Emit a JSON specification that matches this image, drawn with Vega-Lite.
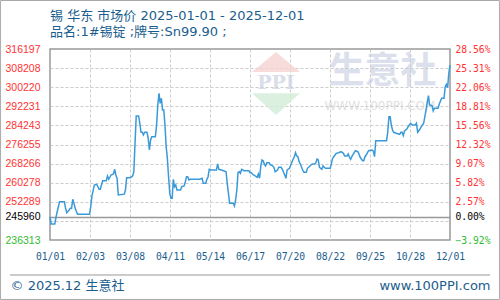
{
  "$schema": "https://vega.github.io/schema/vega-lite/v6.json",
  "width": 400,
  "height": 191,
  "autosize": {"type": "none"},
  "padding": {"left": 50, "top": 49, "right": 50, "bottom": 60},
  "background": "#ffffff",
  "title": {
    "text": ["锡 华东 市场价 2025-01-01 - 2025-12-01", "品名:1#锡锭 ;牌号:Sn99.90 ;"],
    "anchor": "start",
    "frame": "group",
    "font": "DejaVu Sans, Noto Sans CJK SC",
    "fontSize": 13,
    "fontWeight": "normal",
    "color": "#1a5e8e",
    "lineHeight": 16,
    "offset": -38.5
  },
  "config": {
    "view": {"stroke": "#999999", "strokeWidth": 1.5},
    "axis": {"domain": false, "ticks": false}
  },
  "resolve": {"axis": {"y": "independent"}},
  "layer": [
    {
      "data": {"values": [{}]},
      "mark": {"type": "rect", "fill": "transparent", "stroke": "#aaaaaa", "strokeWidth": 1},
      "encoding": {
        "x": {"datum": {"year": 2024, "month": 11, "date": 20, "hours": 17}, "type": "temporal"},
        "x2": {"datum": {"year": 2026, "month": 1, "date": 11, "hours": 7}},
        "y": {"datum": 336480, "type": "quantitative", "axis": null},
        "y2": {"datum": 211428}
      }
    },
    {
      "data": {"values": [{}]},
      "mark": {"type": "rule", "stroke": "#999999", "strokeWidth": 1},
      "encoding": {
        "x": {"datum": {"year": 2024, "month": 11, "date": 28, "hours": 14}, "type": "temporal"},
        "x2": {"datum": {"year": 2026, "month": 1, "date": 3, "hours": 10}},
        "y": {"datum": 221675, "type": "quantitative", "axis": null}
      }
    },
    {
      "data": {"values": [{}]},
      "mark": {"type": "point", "shape": "M-1,0L1,0L0,-0.83Z", "size": 2304, "filled": true, "fill": "#f6d3d3", "opacity": 0.8, "strokeWidth": 0},
      "encoding": {
        "x": {"datum": {"year": 2025, "month": 7, "date": 8, "hours": 17}, "type": "temporal"},
        "y": {"datum": 306577, "type": "quantitative", "axis": null}
      }
    },
    {
      "data": {"values": [{}]},
      "mark": {"type": "point", "shape": "M-1,0L1,0L0,0.9Z", "size": 2304, "filled": true, "fill": "#d2ecd7", "opacity": 0.8, "strokeWidth": 0},
      "encoding": {
        "x": {"datum": {"year": 2025, "month": 7, "date": 8, "hours": 17}, "type": "temporal"},
        "y": {"datum": 297669, "type": "quantitative", "axis": null}
      }
    },
    {
      "data": {"values": [{"t": "PPI"}]},
      "mark": {"type": "text", "font": "DejaVu Serif", "fontWeight": "bold", "fontSize": 19, "fill": "#c9d1e2", "opacity": 0.7, "align": "center", "baseline": "middle"},
      "encoding": {
        "text": {"field": "t"},
        "x": {"datum": {"year": 2025, "month": 7, "date": 8, "hours": 17}, "type": "temporal"},
        "y": {"datum": 301978, "type": "quantitative", "axis": null}
      }
    },
    {
      "data": {"values": [{"t": "WWW.100PPI.COM"}]},
      "mark": {"type": "text", "font": "DejaVu Sans", "fontSize": 12, "fill": "#cccccc", "opacity": 0.6, "align": "center", "baseline": "middle"},
      "encoding": {
        "text": {"field": "t"},
        "x": {"datum": {"year": 2025, "month": 10, "date": 3, "hours": 12}, "type": "temporal"},
        "y": {"datum": 292357, "type": "quantitative", "axis": null}
      }
    },
    {
      "data": {"values": [{"t": "生意社"}]},
      "mark": {"type": "text", "font": "Noto Sans CJK SC", "fontWeight": "bold", "fontSize": 36, "fill": "#c5cde0", "opacity": 0.6, "align": "center", "baseline": "middle"},
      "encoding": {
        "text": {"field": "t"},
        "x": {"datum": {"year": 2025, "month": 10, "date": 5, "hours": 14}, "type": "temporal"},
        "y": {
          "datum": 306703,
          "type": "quantitative",
          "axis": {
            "orient": "right",
            "values": [236313, 245960, 252289, 260278, 268266, 276255, 284243, 292231, 300220, 308208, 316197],
            "tickCount": 20,
            "labelExpr": "format((datum.value - 245960) / 245960 * 100, '.2f') + '%'",
            "labelFont": "DejaVu Sans Mono",
            "labelFontSize": 9.7,
            "labelPadding": 5,
            "labelOverlap": false,
            "labelFlush": false,
            "labelColor": {"condition": [{"test": "datum.value == 245960", "value": "#000000"}, {"test": "datum.value == 236313", "value": "#33bb33"}], "value": "#ff3333"},
            "grid": false,
            "title": "www.100PPI.com",
            "titleAngle": 0,
            "titleX": 40,
            "titleY": 236,
            "titleAlign": "right",
            "titleBaseline": "middle",
            "titleFont": "DejaVu Sans",
            "titleFontSize": 13,
            "titleFontWeight": "normal",
            "titleColor": "#1a5e8e"
          }
        }
      }
    },
    {
      "data": {
        "values": [
          {"date": "2025-01-01", "price": 245960},
          {"date": "2025-01-02", "price": 243005},
          {"date": "2025-01-05", "price": 243005},
          {"date": "2025-01-06", "price": 245807},
          {"date": "2025-01-07", "price": 248149},
          {"date": "2025-01-08", "price": 250240},
          {"date": "2025-01-09", "price": 252332},
          {"date": "2025-01-13", "price": 252332},
          {"date": "2025-01-14", "price": 249571},
          {"date": "2025-01-15", "price": 247731},
          {"date": "2025-01-17", "price": 248860},
          {"date": "2025-01-18", "price": 249571},
          {"date": "2025-01-19", "price": 249571},
          {"date": "2025-01-20", "price": 253335},
          {"date": "2025-01-21", "price": 251662},
          {"date": "2025-01-22", "price": 249571},
          {"date": "2025-01-24", "price": 247062},
          {"date": "2025-02-03", "price": 247062},
          {"date": "2025-02-04", "price": 250240},
          {"date": "2025-02-05", "price": 254716},
          {"date": "2025-02-07", "price": 259316},
          {"date": "2025-02-09", "price": 259609},
          {"date": "2025-02-11", "price": 257518},
          {"date": "2025-02-12", "price": 257518},
          {"date": "2025-02-14", "price": 261115},
          {"date": "2025-02-17", "price": 261115},
          {"date": "2025-02-18", "price": 263080},
          {"date": "2025-02-19", "price": 261700},
          {"date": "2025-02-21", "price": 263499},
          {"date": "2025-02-23", "price": 263917},
          {"date": "2025-02-24", "price": 265883},
          {"date": "2025-02-25", "price": 263499},
          {"date": "2025-02-26", "price": 262119},
          {"date": "2025-02-27", "price": 255134},
          {"date": "2025-03-04", "price": 255500},
          {"date": "2025-03-05", "price": 257225},
          {"date": "2025-03-06", "price": 262369},
          {"date": "2025-03-09", "price": 262369},
          {"date": "2025-03-11", "price": 263080},
          {"date": "2025-03-12", "price": 264879},
          {"date": "2025-03-13", "price": 276757},
          {"date": "2025-03-14", "price": 288175},
          {"date": "2025-03-16", "price": 288175},
          {"date": "2025-03-17", "price": 285122},
          {"date": "2025-03-18", "price": 281358},
          {"date": "2025-03-19", "price": 281358},
          {"date": "2025-03-20", "price": 280228},
          {"date": "2025-03-21", "price": 281358},
          {"date": "2025-03-23", "price": 281358},
          {"date": "2025-03-24", "price": 278848},
          {"date": "2025-03-25", "price": 273955},
          {"date": "2025-03-26", "price": 278137},
          {"date": "2025-03-27", "price": 279517},
          {"date": "2025-03-30", "price": 279517},
          {"date": "2025-03-31", "price": 284411},
          {"date": "2025-04-01", "price": 292775},
          {"date": "2025-04-02", "price": 297669},
          {"date": "2025-04-03", "price": 293486},
          {"date": "2025-04-04", "price": 295578},
          {"date": "2025-04-05", "price": 290684},
          {"date": "2025-04-06", "price": 290684},
          {"date": "2025-04-07", "price": 284411},
          {"date": "2025-04-08", "price": 275335},
          {"date": "2025-04-09", "price": 270483},
          {"date": "2025-04-10", "price": 262788},
          {"date": "2025-04-11", "price": 255845},
          {"date": "2025-04-12", "price": 253754},
          {"date": "2025-04-13", "price": 253754},
          {"date": "2025-04-14", "price": 261700},
          {"date": "2025-04-15", "price": 258605},
          {"date": "2025-04-16", "price": 259316},
          {"date": "2025-04-17", "price": 257225},
          {"date": "2025-04-20", "price": 257225},
          {"date": "2025-04-21", "price": 258605},
          {"date": "2025-04-23", "price": 258898},
          {"date": "2025-04-24", "price": 260696},
          {"date": "2025-04-25", "price": 262788},
          {"date": "2025-04-26", "price": 262788},
          {"date": "2025-04-27", "price": 261407},
          {"date": "2025-04-28", "price": 261700},
          {"date": "2025-05-06", "price": 261700},
          {"date": "2025-05-08", "price": 262119},
          {"date": "2025-05-09", "price": 260027},
          {"date": "2025-05-11", "price": 260027},
          {"date": "2025-05-12", "price": 261700},
          {"date": "2025-05-13", "price": 262788},
          {"date": "2025-05-14", "price": 265883},
          {"date": "2025-05-16", "price": 265590},
          {"date": "2025-05-20", "price": 265590},
          {"date": "2025-05-21", "price": 268099},
          {"date": "2025-05-22", "price": 265883},
          {"date": "2025-05-24", "price": 265590},
          {"date": "2025-05-26", "price": 265297},
          {"date": "2025-05-28", "price": 264879},
          {"date": "2025-05-29", "price": 260027},
          {"date": "2025-05-30", "price": 255845},
          {"date": "2025-05-31", "price": 251662},
          {"date": "2025-06-03", "price": 251662},
          {"date": "2025-06-04", "price": 250533},
          {"date": "2025-06-05", "price": 253043},
          {"date": "2025-06-06", "price": 257225},
          {"date": "2025-06-07", "price": 264460},
          {"date": "2025-06-08", "price": 264879},
          {"date": "2025-06-09", "price": 264210},
          {"date": "2025-06-10", "price": 265883},
          {"date": "2025-06-12", "price": 265297},
          {"date": "2025-06-16", "price": 265297},
          {"date": "2025-06-17", "price": 264460},
          {"date": "2025-06-18", "price": 264460},
          {"date": "2025-06-20", "price": 263499},
          {"date": "2025-06-21", "price": 263200},
          {"date": "2025-06-23", "price": 262537},
          {"date": "2025-06-24", "price": 263917},
          {"date": "2025-06-25", "price": 262119},
          {"date": "2025-06-26", "price": 267263},
          {"date": "2025-06-27", "price": 269772},
          {"date": "2025-06-28", "price": 269500},
          {"date": "2025-06-29", "price": 267974},
          {"date": "2025-06-30", "price": 267263},
          {"date": "2025-07-01", "price": 268643},
          {"date": "2025-07-03", "price": 268643},
          {"date": "2025-07-04", "price": 267681},
          {"date": "2025-07-05", "price": 267681},
          {"date": "2025-07-07", "price": 266719},
          {"date": "2025-07-08", "price": 264879},
          {"date": "2025-07-10", "price": 265590},
          {"date": "2025-07-11", "price": 266719},
          {"date": "2025-07-13", "price": 266719},
          {"date": "2025-07-14", "price": 265883},
          {"date": "2025-07-16", "price": 263499},
          {"date": "2025-07-17", "price": 262119},
          {"date": "2025-07-18", "price": 265590},
          {"date": "2025-07-20", "price": 266301},
          {"date": "2025-07-21", "price": 267681},
          {"date": "2025-07-23", "price": 270065},
          {"date": "2025-07-24", "price": 271152},
          {"date": "2025-07-25", "price": 272825},
          {"date": "2025-07-26", "price": 271445},
          {"date": "2025-07-27", "price": 271152},
          {"date": "2025-07-28", "price": 269061},
          {"date": "2025-07-29", "price": 268099},
          {"date": "2025-07-31", "price": 265590},
          {"date": "2025-08-01", "price": 264628},
          {"date": "2025-08-03", "price": 264628},
          {"date": "2025-08-04", "price": 266301},
          {"date": "2025-08-06", "price": 267263},
          {"date": "2025-08-08", "price": 268099},
          {"date": "2025-08-10", "price": 268099},
          {"date": "2025-08-11", "price": 268643},
          {"date": "2025-08-12", "price": 270190},
          {"date": "2025-08-13", "price": 269772},
          {"date": "2025-08-14", "price": 266719},
          {"date": "2025-08-16", "price": 265883},
          {"date": "2025-08-17", "price": 267263},
          {"date": "2025-08-18", "price": 266719},
          {"date": "2025-08-19", "price": 266301},
          {"date": "2025-08-23", "price": 266301},
          {"date": "2025-08-24", "price": 268392},
          {"date": "2025-08-25", "price": 270483},
          {"date": "2025-08-27", "price": 271863},
          {"date": "2025-08-28", "price": 272574},
          {"date": "2025-08-30", "price": 272825},
          {"date": "2025-09-01", "price": 273244},
          {"date": "2025-09-03", "price": 272574},
          {"date": "2025-09-04", "price": 271445},
          {"date": "2025-09-06", "price": 271445},
          {"date": "2025-09-07", "price": 272282},
          {"date": "2025-09-08", "price": 270902},
          {"date": "2025-09-09", "price": 270065},
          {"date": "2025-09-10", "price": 271152},
          {"date": "2025-09-12", "price": 272825},
          {"date": "2025-09-13", "price": 273662},
          {"date": "2025-09-15", "price": 273244},
          {"date": "2025-09-16", "price": 272282},
          {"date": "2025-09-17", "price": 270902},
          {"date": "2025-09-19", "price": 269479},
          {"date": "2025-09-20", "price": 269479},
          {"date": "2025-09-21", "price": 271152},
          {"date": "2025-09-22", "price": 271863},
          {"date": "2025-09-24", "price": 273662},
          {"date": "2025-09-27", "price": 273955},
          {"date": "2025-09-28", "price": 273500},
          {"date": "2025-09-29", "price": 271152},
          {"date": "2025-09-30", "price": 277844},
          {"date": "2025-10-09", "price": 277844},
          {"date": "2025-10-10", "price": 281358},
          {"date": "2025-10-11", "price": 287882},
          {"date": "2025-10-12", "price": 287882},
          {"date": "2025-10-13", "price": 284411},
          {"date": "2025-10-14", "price": 282319},
          {"date": "2025-10-15", "price": 281358},
          {"date": "2025-10-17", "price": 280939},
          {"date": "2025-10-20", "price": 280521},
          {"date": "2025-10-21", "price": 281358},
          {"date": "2025-10-22", "price": 281358},
          {"date": "2025-10-23", "price": 279935},
          {"date": "2025-10-24", "price": 281901},
          {"date": "2025-10-26", "price": 282738},
          {"date": "2025-10-27", "price": 283700},
          {"date": "2025-10-29", "price": 285122},
          {"date": "2025-10-31", "price": 284411},
          {"date": "2025-11-02", "price": 284411},
          {"date": "2025-11-03", "price": 285122},
          {"date": "2025-11-04", "price": 281358},
          {"date": "2025-11-06", "price": 282738},
          {"date": "2025-11-07", "price": 283700},
          {"date": "2025-11-09", "price": 285122},
          {"date": "2025-11-10", "price": 287882},
          {"date": "2025-11-11", "price": 290684},
          {"date": "2025-11-13", "price": 296665},
          {"date": "2025-11-14", "price": 292775},
          {"date": "2025-11-16", "price": 292483},
          {"date": "2025-11-17", "price": 290266},
          {"date": "2025-11-18", "price": 291395},
          {"date": "2025-11-21", "price": 291395},
          {"date": "2025-11-22", "price": 293068},
          {"date": "2025-11-24", "price": 295578},
          {"date": "2025-11-26", "price": 295578},
          {"date": "2025-11-27", "price": 300429},
          {"date": "2025-11-28", "price": 301433},
          {"date": "2025-11-29", "price": 300011},
          {"date": "2025-11-30", "price": 306034},
          {"date": "2025-12-01", "price": 309505}
        ],
        "format": {"parse": {"date": "date:'%Y-%m-%d'"}}
      },
      "mark": {"type": "line", "stroke": "#3a9ad9", "strokeWidth": 1.5, "interpolate": "linear"},
      "encoding": {
        "x": {
          "field": "date",
          "type": "temporal",
          "scale": {"domain": [{"year": 2025, "month": 1, "date": 1}, {"year": 2025, "month": 12, "date": 1}]},
          "axis": {
            "values": [
              {"year": 2025, "month": 1, "date": 1},
              {"year": 2025, "month": 2, "date": 3, "hours": 9, "minutes": 36},
              {"year": 2025, "month": 3, "date": 8, "hours": 19, "minutes": 12},
              {"year": 2025, "month": 4, "date": 11, "hours": 4, "minutes": 48},
              {"year": 2025, "month": 5, "date": 14, "hours": 14, "minutes": 24},
              {"year": 2025, "month": 6, "date": 17},
              {"year": 2025, "month": 7, "date": 20, "hours": 9, "minutes": 36},
              {"year": 2025, "month": 8, "date": 22, "hours": 19, "minutes": 12},
              {"year": 2025, "month": 9, "date": 25, "hours": 4, "minutes": 48},
              {"year": 2025, "month": 10, "date": 28, "hours": 14, "minutes": 24},
              {"year": 2025, "month": 12, "date": 1}
            ],
            "tickCount": 20,
            "format": "%m/%d",
            "labelFont": "DejaVu Sans Mono",
            "labelFontSize": 9.7,
            "labelColor": "#1a5e8e",
            "labelPadding": 11,
            "labelFlush": false,
            "labelOverlap": false,
            "grid": true,
            "gridColor": "#cccccc",
            "gridDash": [3, 2],
            "gridOpacity": {"condition": {"test": "datum.value <= datetime(2025, 0, 1, 2) || datum.value >= datetime(2025, 10, 30)", "value": 0}, "value": 1},
            "title": "© 2025.12 生意社",
            "titleX": -40,
            "titleY": 45,
            "titleAlign": "left",
            "titleBaseline": "middle",
            "titleFont": "DejaVu Sans, Noto Sans CJK SC",
            "titleFontSize": 13,
            "titleFontWeight": "normal",
            "titleColor": "#1a5e8e"
          }
        },
        "y": {
          "field": "price",
          "type": "quantitative",
          "scale": {"domain": [236313, 316197], "nice": false, "zero": false},
          "axis": {
            "orient": "left",
            "values": [236313, 244301, 245960, 252289, 260278, 268266, 276255, 284243, 292231, 300220, 308208, 316197],
            "tickCount": 20,
            "format": "d",
            "labelExpr": "datum.value == 244301 ? '' : datum.label",
            "labelFont": "Liberation Sans",
            "labelFontSize": 10.5,
            "labelPadding": 10,
            "labelOverlap": false,
            "labelFlush": false,
            "labelColor": {"condition": [{"test": "datum.value == 245960", "value": "#000000"}, {"test": "datum.value == 236313", "value": "#33bb33"}], "value": "#ff3333"},
            "grid": true,
            "gridColor": {"condition": {"test": "datum.value == 245960", "value": "#999999"}, "value": "#cccccc"},
            "gridDash": {"condition": {"test": "datum.value == 245960", "value": []}, "value": [3, 2]},
            "gridWidth": {"condition": {"test": "datum.value == 245960", "value": 1.5}, "value": 1},
            "gridOpacity": {"condition": {"test": "datum.value == 236313 || datum.value == 316197", "value": 0}, "value": 1},
            "title": null
          }
        }
      }
    }
  ]
}
